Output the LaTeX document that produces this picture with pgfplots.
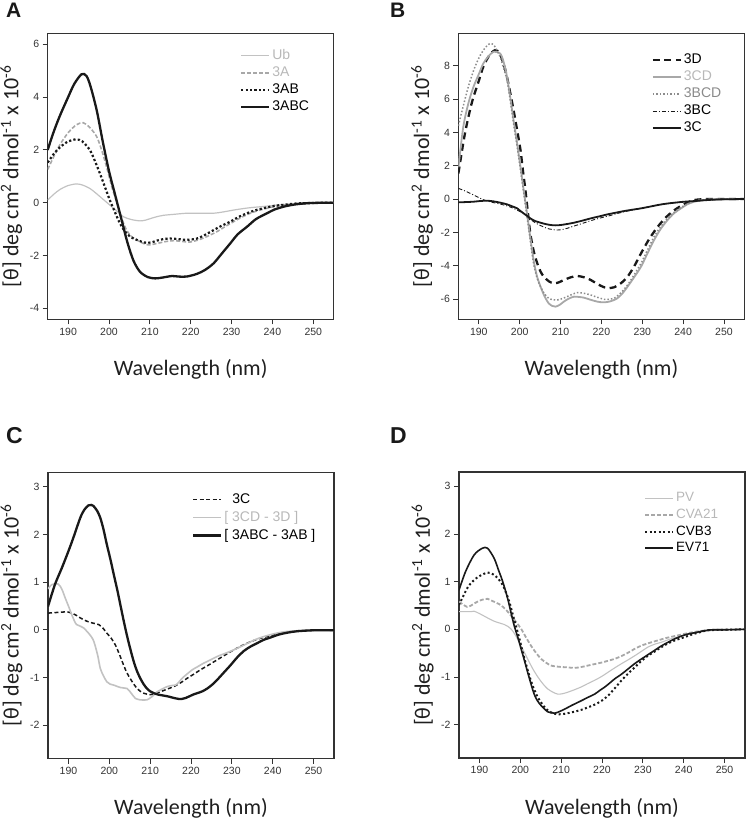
\documentclass[border=0pt]{standalone}
\usepackage{fontspec}
\setmainfont{Liberation Sans}
\newfontfamily\calib{Carlito}
\usepackage{pgfplots}
\pgfplotsset{compat=1.18}
\definecolor{axgray}{HTML}{333333}
\definecolor{ticklab}{HTML}{333333}
\definecolor{lgray}{HTML}{C2C2C2}
\definecolor{mgray}{HTML}{A8A8A8}
\definecolor{dgray}{HTML}{8C8C8C}
\definecolor{ltext}{HTML}{B8B8B8}
\definecolor{mtext}{HTML}{8A8A8A}
\pgfplotsset{
  cdstyle/.style={
    scale only axis, width=286pt, height=286pt,
    xmin=185, xmax=255, xtick={190,200,...,250},
    tick pos=left, tick align=outside, major tick length=5pt,
    axis line style={draw=axgray, line width=1.1pt},
    every tick/.style={draw=axgray, line width=0.9pt},
    tick label style={font=\fontsize{10.5}{12}\selectfont, text=ticklab},
    /pgf/number format/assume math mode=true,
    xlabel={Wavelength (nm)},
    ylabel={[θ] deg cm\textsuperscript{2} dmol\textsuperscript{-1} x 10\textsuperscript{-6}},
    xlabel style={font=\calib\fontsize{22}{24}\selectfont, text=black!88, at={(axis description cs:0.5,-0.175)}, anchor=center},
    ylabel style={font=\calib\fontsize{22}{24}\selectfont, text=black!88, at={(axis description cs:-0.127,0.5)}, anchor=center},
    legend cell align=left,
    legend image code/.code={\draw[##1] (0pt,0pt) -- (28pt,0pt);},
    legend style={draw=none, fill=none, inner sep=0pt, column sep=2pt, row sep=4pt,
      font=\fontsize{14}{14}\selectfont,
      nodes={inner sep=0pt, text height=10pt, text depth=3pt}},
  }
}
\begin{document}
\begin{tikzpicture}
\useasboundingbox (0,0) rectangle (748pt,823pt);
\node[anchor=base west, inner sep=0pt, font=\bfseries\fontsize{21}{21}\selectfont, text=black!90] at (6pt,805pt) {A};
\node[anchor=base west, inner sep=0pt, font=\bfseries\fontsize{21}{21}\selectfont, text=black!90] at (390pt,805pt) {B};
\node[anchor=base west, inner sep=0pt, font=\bfseries\fontsize{23}{23}\selectfont, text=black!90] at (6pt,379pt) {C};
\node[anchor=base west, inner sep=0pt, font=\bfseries\fontsize{23}{23}\selectfont, text=black!90] at (390pt,379pt) {D};

% ---------------- Panel A
\begin{axis}[cdstyle, at={(47.7pt,503.7pt)}, anchor=south west,
  ymin=-4.42, ymax=6.42, ytick={-4,-2,0,2,4,6},
  legend style={at={(0.672,0.945)}, anchor=north west}]
\addplot[smooth, lgray, line width=1.2pt] table[row sep=\\] {
185 0.1\\ 186.5 0.32\\ 188 0.5\\ 190 0.65\\ 192 0.71\\ 193.5 0.67\\ 195.3 0.54\\ 196.5 0.4\\ 197.8 0.23\\ 199 0.07\\ 200.2 -0.09\\ 201.8 -0.3\\ 203.5 -0.53\\ 205.5 -0.64\\ 207.6 -0.69\\ 209 -0.66\\ 210 -0.61\\ 211.5 -0.54\\ 213.3 -0.48\\ 216 -0.44\\ 219 -0.40\\ 222 -0.40\\ 225.6 -0.40\\ 228 -0.35\\ 230.5 -0.28\\ 234 -0.2\\ 238.7 -0.13\\ 242 -0.08\\ 246.9 -0.05\\ 250 -0.02\\ 255 0\\
};
\addlegendentry{\textcolor{ltext}{Ub}}
\addplot[smooth, mgray, line width=1.6pt, dash pattern=on 4pt off 2pt] table[row sep=\\] {
185 1.26\\ 186.5 1.75\\ 188 2.2\\ 190 2.65\\ 192 2.95\\ 193.7 3.03\\ 195.3 2.85\\ 197 2.5\\ 198.3 1.95\\ 199.4 1.36\\ 200.7 0.6\\ 201.9 0\\ 203 -0.55\\ 204.3 -1.04\\ 205.5 -1.28\\ 206.8 -1.41\\ 208.2 -1.53\\ 209.6 -1.6\\ 211 -1.57\\ 212.5 -1.52\\ 214 -1.47\\ 215.8 -1.44\\ 218 -1.47\\ 219.9 -1.49\\ 222.3 -1.39\\ 224.3 -1.26\\ 226.4 -1.10\\ 228.5 -0.9\\ 230.5 -0.72\\ 232.5 -0.55\\ 234.6 -0.40\\ 236.5 -0.3\\ 238.7 -0.21\\ 241 -0.13\\ 243 -0.08\\ 246 -0.03\\ 250 -0.01\\ 255 0\\
};
\addlegendentry{\textcolor{ltext}{3A}}
\addplot[smooth, black!90, line width=2.2pt, dash pattern=on 2.2pt off 2.2pt] table[row sep=\\] {
185 1.52\\ 186.5 1.85\\ 188 2.1\\ 190 2.32\\ 192 2.4\\ 193.5 2.32\\ 195.3 2.0\\ 196.5 1.6\\ 197.8 1.1\\ 199 0.6\\ 200.2 0.1\\ 201.3 -0.3\\ 202.3 -0.66\\ 203.3 -0.95\\ 204.3 -1.16\\ 205.5 -1.32\\ 206.8 -1.41\\ 208 -1.48\\ 209.2 -1.52\\ 210.5 -1.5\\ 211.7 -1.44\\ 213.3 -1.38\\ 215 -1.36\\ 217 -1.38\\ 219 -1.41\\ 221.5 -1.36\\ 223.5 -1.22\\ 225.6 -1.04\\ 227.5 -0.88\\ 229.7 -0.72\\ 231.5 -0.56\\ 233.8 -0.40\\ 236 -0.28\\ 238.7 -0.18\\ 240.5 -0.12\\ 242.8 -0.08\\ 246 -0.03\\ 250 -0.01\\ 255 0\\
};
\addlegendentry{3AB}
\addplot[smooth, black!90, line width=2.3pt] table[row sep=\\] {
185 2.0\\ 186.5 2.7\\ 188 3.3\\ 190 4.0\\ 191.5 4.5\\ 193.3 4.87\\ 194.5 4.8\\ 195.5 4.4\\ 197 3.5\\ 198.5 2.3\\ 200 1.2\\ 201.5 0.3\\ 203 -0.6\\ 204.5 -1.5\\ 206 -2.2\\ 207.6 -2.62\\ 209.5 -2.82\\ 211.3 -2.87\\ 213 -2.84\\ 215.4 -2.78\\ 217 -2.8\\ 219 -2.8\\ 221.5 -2.7\\ 223.5 -2.55\\ 225.6 -2.3\\ 227.5 -1.95\\ 229.7 -1.54\\ 231.5 -1.2\\ 233.8 -0.91\\ 236 -0.62\\ 238.7 -0.4\\ 240.5 -0.26\\ 242.8 -0.15\\ 245 -0.08\\ 247 -0.04\\ 250 -0.01\\ 255 0\\
};
\addlegendentry{3ABC}
\end{axis}

% ---------------- Panel B
\begin{axis}[cdstyle, at={(458.4pt,503.7pt)}, anchor=south west,
  ymin=-7.22, ymax=9.95, ytick={-6,-4,...,8},
  legend style={at={(0.675,0.93)}, anchor=north west}]
\addplot[smooth, black!90, line width=2.3pt, dash pattern=on 7pt off 4.5pt] table[row sep=\\] {
185 1.54\\ 186.5 3.8\\ 187.8 5.3\\ 188.7 6.14\\ 190 7.1\\ 191.1 7.94\\ 192.5 8.6\\ 194 8.94\\ 195.2 8.7\\ 196.5 7.74\\ 197.5 6.6\\ 198.5 5.34\\ 199.4 4.1\\ 200.2 2.94\\ 200.8 1.7\\ 201.4 0.54\\ 202 -0.8\\ 202.6 -2.06\\ 203.4 -3.1\\ 204.3 -3.86\\ 205.1 -4.35\\ 205.9 -4.66\\ 207.2 -4.95\\ 208.4 -5.06\\ 209.6 -5.0\\ 210.8 -4.86\\ 212.5 -4.7\\ 214.1 -4.62\\ 215.8 -4.7\\ 217.4 -4.86\\ 219 -5.1\\ 220.7 -5.3\\ 222 -5.35\\ 223.1 -5.3\\ 224.8 -5.05\\ 226.4 -4.66\\ 228 -4.05\\ 229.7 -3.26\\ 231.7 -2.4\\ 233.8 -1.66\\ 235.8 -1.1\\ 237.9 -0.66\\ 240.3 -0.3\\ 242.8 -0.06\\ 246 0\\ 250 0\\ 255 0\\
};
\addlegendentry{3D}
\addplot[smooth, mgray, line width=1.8pt] table[row sep=\\] {
185 1.9\\ 186.2 4.34\\ 187.5 5.8\\ 188.7 6.74\\ 190 7.5\\ 191.1 8.14\\ 192.3 8.55\\ 193.6 8.84\\ 195.2 8.74\\ 196.1 8.2\\ 196.9 7.34\\ 197.7 6.1\\ 198.5 4.74\\ 199.4 3.3\\ 200.2 1.94\\ 201 0.5\\ 201.8 -0.86\\ 202.6 -2.3\\ 203.4 -3.66\\ 204.2 -4.6\\ 205.1 -5.26\\ 206.1 -5.85\\ 207.1 -6.26\\ 208 -6.42\\ 208.8 -6.46\\ 209.8 -6.35\\ 210.8 -6.16\\ 212 -5.98\\ 213.3 -5.86\\ 214.5 -5.88\\ 215.7 -5.92\\ 217.4 -6.05\\ 219 -6.16\\ 220.3 -6.2\\ 221.5 -6.18\\ 222.7 -6.1\\ 223.9 -5.96\\ 225.2 -5.65\\ 226.4 -5.26\\ 228 -4.7\\ 229.7 -4.06\\ 231.3 -3.25\\ 232.9 -2.46\\ 234.5 -1.8\\ 236.2 -1.26\\ 237.8 -0.85\\ 239.5 -0.56\\ 241 -0.32\\ 242.8 -0.16\\ 245 -0.06\\ 248 -0.02\\ 255 0\\
};
\addlegendentry{\textcolor{ltext}{3CD}}
\addplot[smooth, dgray, line width=1.5pt, dash pattern=on 1.5pt off 2pt] table[row sep=\\] {
185 4.4\\ 186 5.4\\ 187.5 6.8\\ 189 7.9\\ 190.5 8.7\\ 191.8 9.15\\ 192.8 9.34\\ 193.8 9.2\\ 195.2 8.54\\ 196 7.9\\ 196.9 7.14\\ 197.7 5.9\\ 198.5 4.54\\ 199.4 3.1\\ 200.2 1.74\\ 201 0.35\\ 201.8 -1.06\\ 202.6 -2.5\\ 203.4 -3.86\\ 204.2 -4.7\\ 205.1 -5.26\\ 206.1 -5.7\\ 207.1 -5.96\\ 208.2 -6.05\\ 209.2 -6.06\\ 210.4 -5.98\\ 211.6 -5.86\\ 212.9 -5.72\\ 214.1 -5.62\\ 215.8 -5.66\\ 217.4 -5.76\\ 219 -5.9\\ 220.7 -6.02\\ 222 -6.02\\ 223.1 -5.96\\ 224.8 -5.62\\ 226.4 -5.16\\ 228 -4.55\\ 229.7 -3.86\\ 231.3 -3.05\\ 232.9 -2.26\\ 234.5 -1.65\\ 236.2 -1.16\\ 237.8 -0.8\\ 239.5 -0.5\\ 241 -0.3\\ 242.8 -0.12\\ 245 -0.04\\ 248 -0.01\\ 255 0\\
};
\addlegendentry{\textcolor{mtext}{3BCD}}
\addplot[smooth, black!90, line width=0.9pt, dash pattern=on 4pt off 2pt on 1pt off 2pt] table[row sep=\\] {
185 0.64\\ 186.5 0.5\\ 187.9 0.34\\ 189.5 0.15\\ 191.1 -0.04\\ 193 -0.18\\ 195.2 -0.3\\ 197 -0.42\\ 198.5 -0.56\\ 200 -0.74\\ 201 -0.86\\ 202.2 -1.08\\ 203.4 -1.36\\ 205 -1.58\\ 206.7 -1.76\\ 208 -1.83\\ 209.2 -1.86\\ 210.5 -1.83\\ 211.6 -1.76\\ 213.3 -1.62\\ 214.9 -1.5\\ 216.6 -1.36\\ 218.2 -1.24\\ 220 -1.12\\ 222 -1.0\\ 224 -0.86\\ 226.4 -0.72\\ 229.7 -0.56\\ 233.8 -0.36\\ 237.9 -0.22\\ 242.8 -0.12\\ 247 -0.05\\ 250 -0.02\\ 255 0\\
};
\addlegendentry{3BC}
\addplot[smooth, black!90, line width=1.8pt] table[row sep=\\] {
185 -0.2\\ 187 -0.18\\ 188.7 -0.16\\ 190.3 -0.12\\ 192 -0.1\\ 193.6 -0.14\\ 195.3 -0.22\\ 196.9 -0.32\\ 198.2 -0.44\\ 199.4 -0.56\\ 200.2 -0.72\\ 201.4 -0.94\\ 202.6 -1.16\\ 203.8 -1.32\\ 205.1 -1.42\\ 206.3 -1.5\\ 207.6 -1.56\\ 208.8 -1.58\\ 210 -1.56\\ 211.6 -1.5\\ 213.3 -1.42\\ 215.3 -1.3\\ 217.4 -1.16\\ 219.5 -1.04\\ 221.5 -0.92\\ 223.5 -0.82\\ 225.6 -0.72\\ 227.6 -0.64\\ 229.7 -0.56\\ 231.8 -0.46\\ 233.8 -0.36\\ 235.8 -0.28\\ 237.9 -0.22\\ 240.3 -0.16\\ 242.8 -0.12\\ 246 -0.06\\ 249.3 -0.02\\ 255 0\\
};
\addlegendentry{3C}
\end{axis}

% ---------------- Panel C
\begin{axis}[cdstyle, at={(48pt,64.5pt)}, anchor=south west,
  ymin=-2.7, ymax=3.3, ytick={-2,-1,...,3},
  legend style={at={(0.503,0.929)}, anchor=north west, row sep=5pt}]
\addplot[smooth, black!90, line width=1.5pt, dash pattern=on 4pt off 2.5pt] table[row sep=\\] {
185 0.35\\ 186.5 0.36\\ 188.4 0.37\\ 189.5 0.38\\ 190.8 0.35\\ 192 0.3\\ 192.9 0.25\\ 194.5 0.18\\ 196 0.14\\ 197.4 0.11\\ 198.5 0.03\\ 199.4 -0.07\\ 200.5 -0.18\\ 201.5 -0.32\\ 202.5 -0.52\\ 203.5 -0.74\\ 204.3 -0.9\\ 205.1 -1.02\\ 206 -1.14\\ 206.8 -1.23\\ 207.6 -1.29\\ 208.4 -1.33\\ 210 -1.36\\ 211.2 -1.34\\ 212.5 -1.30\\ 214 -1.25\\ 215.8 -1.19\\ 217.5 -1.11\\ 219 -1.02\\ 220.7 -0.93\\ 222.3 -0.84\\ 224.3 -0.74\\ 226.4 -0.63\\ 228.5 -0.52\\ 230.5 -0.42\\ 232.5 -0.33\\ 234.6 -0.25\\ 236.5 -0.19\\ 238.7 -0.14\\ 240.8 -0.09\\ 242.8 -0.06\\ 246 -0.03\\ 250 -0.01\\ 255 -0.01\\
};
\addlegendentry{\hspace{8pt}3C}
\addplot[smooth, lgray, line width=1.6pt] table[row sep=\\] {
185 0.86\\ 186 0.95\\ 187.5 0.96\\ 188.4 0.85\\ 189.2 0.67\\ 190 0.5\\ 190.8 0.32\\ 191.5 0.18\\ 192 0.11\\ 192.8 0.08\\ 193.7 0.04\\ 194.5 -0.03\\ 195.3 -0.11\\ 196 -0.2\\ 196.5 -0.32\\ 197.2 -0.55\\ 197.8 -0.81\\ 198.6 -0.97\\ 199.4 -1.09\\ 200.2 -1.14\\ 201.1 -1.16\\ 202 -1.19\\ 202.7 -1.21\\ 203.5 -1.22\\ 204.3 -1.23\\ 205.1 -1.3\\ 205.8 -1.38\\ 206.4 -1.44\\ 207.6 -1.47\\ 209.2 -1.47\\ 210 -1.43\\ 210.5 -1.40\\ 211.2 -1.34\\ 211.7 -1.30\\ 213 -1.24\\ 214.2 -1.19\\ 215.3 -1.17\\ 216.2 -1.16\\ 217 -1.1\\ 217.8 -1.02\\ 219 -0.93\\ 220.3 -0.84\\ 221.7 -0.77\\ 223.1 -0.70\\ 224.8 -0.63\\ 226.4 -0.56\\ 228.5 -0.49\\ 230.5 -0.42\\ 232.5 -0.34\\ 234.6 -0.25\\ 236.5 -0.18\\ 238.7 -0.12\\ 241 -0.07\\ 243 -0.04\\ 246 -0.02\\ 250 -0.01\\ 255 -0.01\\
};
\addlegendentry{\textcolor{ltext}{[ 3CD - 3D ]}}
\addplot[smooth, black!90, line width=2.3pt] table[row sep=\\] {
185 0.49\\ 186.7 0.95\\ 188.4 1.3\\ 190 1.65\\ 191.2 1.93\\ 192.9 2.35\\ 193.9 2.52\\ 194.9 2.61\\ 195.6 2.62\\ 196.1 2.6\\ 197 2.5\\ 197.8 2.35\\ 198.6 2.1\\ 199.4 1.79\\ 200.3 1.47\\ 201.1 1.16\\ 202 0.82\\ 202.7 0.53\\ 203.5 0.2\\ 204.3 -0.11\\ 205.2 -0.42\\ 206 -0.67\\ 206.8 -0.87\\ 207.6 -1.02\\ 208.4 -1.14\\ 209.2 -1.23\\ 210 -1.29\\ 210.9 -1.33\\ 212 -1.36\\ 213.3 -1.38\\ 214.5 -1.4\\ 215.8 -1.43\\ 217 -1.45\\ 217.8 -1.45\\ 218.7 -1.43\\ 219.5 -1.40\\ 220.5 -1.36\\ 221.5 -1.33\\ 222.8 -1.29\\ 224 -1.23\\ 225.2 -1.15\\ 226.4 -1.05\\ 228 -0.9\\ 229.7 -0.74\\ 231.3 -0.58\\ 233 -0.44\\ 234.6 -0.35\\ 236.2 -0.28\\ 237.8 -0.21\\ 239.5 -0.16\\ 241.5 -0.1\\ 243.6 -0.06\\ 246 -0.03\\ 250 -0.01\\ 255 -0.01\\
};
\addlegendentry{[ 3ABC - 3AB ]}
\end{axis}

% ---------------- Panel D
\begin{axis}[cdstyle, at={(459pt,65pt)}, anchor=south west,
  ymin=-2.7, ymax=3.3, ytick={-2,-1,...,3},
  legend style={at={(0.647,0.932)}, anchor=north west, row sep=3.7pt, font=\fontsize{13.5}{13.5}\selectfont}]
\addplot[smooth, lgray, line width=1.1pt] table[row sep=\\] {
185 0.37\\ 186.5 0.37\\ 187.9 0.37\\ 188.7 0.38\\ 190 0.33\\ 191.1 0.28\\ 192.4 0.22\\ 193.6 0.17\\ 195 0.13\\ 196.1 0.10\\ 197 0.06\\ 197.7 0.01\\ 198.5 -0.08\\ 199.3 -0.2\\ 200.5 -0.4\\ 201.8 -0.62\\ 203 -0.82\\ 204.3 -1.0\\ 205.5 -1.14\\ 206.7 -1.25\\ 208 -1.32\\ 209.2 -1.36\\ 210.4 -1.35\\ 211.6 -1.32\\ 213.2 -1.27\\ 214.9 -1.21\\ 216.5 -1.14\\ 218.2 -1.07\\ 219.9 -0.99\\ 221.5 -0.90\\ 223.1 -0.81\\ 224.8 -0.72\\ 226.4 -0.64\\ 228.1 -0.55\\ 229.7 -0.46\\ 231.3 -0.37\\ 233 -0.31\\ 234.6 -0.27\\ 236.5 -0.21\\ 238.7 -0.16\\ 241 -0.11\\ 243.5 -0.07\\ 246 -0.03\\ 250 -0.01\\ 255 0\\
};
\addlegendentry{\textcolor{ltext}{PV}}
\addplot[smooth, mgray, line width=1.8pt, dash pattern=on 4pt off 2pt] table[row sep=\\] {
185 0.58\\ 186 0.52\\ 187 0.47\\ 188 0.5\\ 188.7 0.54\\ 190 0.6\\ 191.1 0.63\\ 192 0.64\\ 192.8 0.61\\ 194 0.56\\ 195.2 0.51\\ 196.5 0.41\\ 197.7 0.29\\ 199 0.15\\ 200.2 0.01\\ 201.4 -0.17\\ 202.6 -0.34\\ 203.9 -0.5\\ 205.1 -0.62\\ 206.3 -0.7\\ 207.5 -0.76\\ 208.8 -0.78\\ 210 -0.79\\ 211.7 -0.8\\ 213.3 -0.81\\ 215 -0.79\\ 216.6 -0.76\\ 218.2 -0.73\\ 219.8 -0.70\\ 221.5 -0.66\\ 223.1 -0.62\\ 224.8 -0.56\\ 226.4 -0.49\\ 228 -0.41\\ 229.7 -0.34\\ 231.8 -0.28\\ 233.8 -0.23\\ 235.8 -0.18\\ 237.9 -0.14\\ 240.5 -0.09\\ 243 -0.05\\ 246 -0.02\\ 250 -0.01\\ 255 0\\
};
\addlegendentry{\textcolor{ltext}{CVA21}}
\addplot[smooth, black!90, line width=2pt, dash pattern=on 2pt off 2.5pt] table[row sep=\\] {
185 0.51\\ 187 0.86\\ 188.3 1.0\\ 189.5 1.09\\ 191 1.16\\ 192 1.19\\ 192.8 1.18\\ 193.6 1.14\\ 194.6 1.06\\ 195.7 0.93\\ 196.5 0.77\\ 197.3 0.58\\ 198.1 0.33\\ 198.9 0.08\\ 199.8 -0.2\\ 200.6 -0.48\\ 201.4 -0.73\\ 202.2 -0.97\\ 203.2 -1.22\\ 204.3 -1.43\\ 205.3 -1.56\\ 206.3 -1.67\\ 207.5 -1.74\\ 208.8 -1.78\\ 210.2 -1.78\\ 211.6 -1.76\\ 213.2 -1.73\\ 214.9 -1.69\\ 216.5 -1.64\\ 218.2 -1.58\\ 219.9 -1.5\\ 221.5 -1.39\\ 223.1 -1.24\\ 224.8 -1.07\\ 226.5 -0.92\\ 228.1 -0.79\\ 229.7 -0.66\\ 231.3 -0.55\\ 233 -0.46\\ 234.6 -0.37\\ 236.3 -0.29\\ 237.9 -0.23\\ 240 -0.17\\ 242 -0.11\\ 244 -0.06\\ 246 -0.02\\ 250 -0.01\\ 255 0\\
};
\addlegendentry{CVB3}
\addplot[smooth, black!90, line width=1.6pt] table[row sep=\\] {
185 0.82\\ 186.6 1.21\\ 188.7 1.56\\ 190.7 1.70\\ 192 1.70\\ 193.6 1.49\\ 194.6 1.26\\ 195.7 1.0\\ 196.9 0.65\\ 197.7 0.36\\ 198.5 0.08\\ 199.4 -0.17\\ 200.2 -0.41\\ 201 -0.65\\ 201.8 -0.90\\ 202.6 -1.14\\ 203.4 -1.36\\ 204.2 -1.5\\ 205.1 -1.60\\ 206 -1.68\\ 206.7 -1.73\\ 208.4 -1.76\\ 210 -1.71\\ 211.2 -1.66\\ 212.5 -1.60\\ 214.9 -1.50\\ 216.5 -1.43\\ 218.2 -1.36\\ 219.5 -1.28\\ 220.7 -1.21\\ 222 -1.12\\ 223.1 -1.04\\ 224.8 -0.94\\ 226.4 -0.83\\ 228 -0.72\\ 229.7 -0.62\\ 231.3 -0.53\\ 232.9 -0.44\\ 234.5 -0.35\\ 236.2 -0.27\\ 237.8 -0.2\\ 239.5 -0.14\\ 241 -0.1\\ 242.8 -0.07\\ 245 -0.03\\ 247 -0.01\\ 250 -0.01\\ 255 0\\
};
\addlegendentry{EV71}
\end{axis}
\end{tikzpicture}
\end{document}
